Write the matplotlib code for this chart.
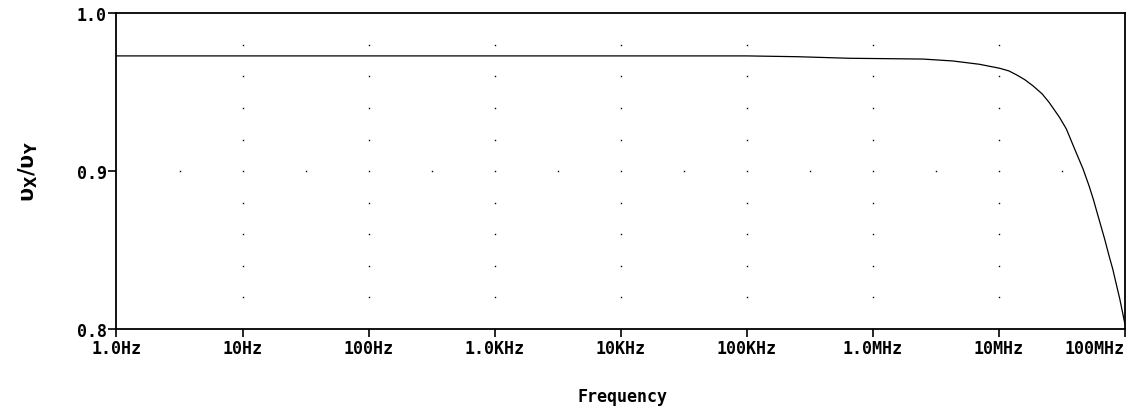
import numpy as np
import matplotlib
matplotlib.use("Agg")
import matplotlib.pyplot as plt

# frequency response (Hz, vx/vy)
freq = [1, 10, 100, 1e3, 1e4, 1e5, 2.5e5, 6.5e5, 1.5e6, 2.5e6, 4.3e6, 7.0e6, 1.01e7,
        1.2e7, 1.38e7, 1.6e7, 1.86e7, 2.2e7, 2.5e7, 3.03e7, 3.43e7, 3.99e7, 4.65e7,
        5.2e7, 5.6e7, 6.2e7, 6.9e7, 7.5e7, 8.0e7, 8.5e7, 9.1e7, 9.6e7, 1e8]
gain = [0.973, 0.973, 0.973, 0.973, 0.973, 0.973, 0.9725, 0.9715, 0.9712, 0.971, 0.9698, 0.9677, 0.9652,
        0.9635, 0.961, 0.958, 0.9541, 0.949, 0.9436, 0.934, 0.9267, 0.914, 0.9014,
        0.8905, 0.8824, 0.870, 0.857, 0.846, 0.838, 0.829, 0.819, 0.810, 0.803]

xticks = [1, 10, 100, 1e3, 1e4, 1e5, 1e6, 1e7, 1e8]
xlabels = ["1.0Hz", "10Hz", "100Hz", "1.0KHz", "10KHz", "100KHz", "1.0MHz", "10MHz", "100MHz"]
yticks = [0.8, 0.9, 1.0]
ylabels = ["0.8", "0.9", "1.0"]

font = {"family": "DejaVu Sans Mono", "weight": "bold", "size": 12}

fig = plt.figure(figsize=(11.33, 4.14), dpi=100)
ax = fig.add_axes([0.1028, 0.2029, 0.8901, 0.7626])

# dotted grid like pspice
gx = xticks[1:-1]
gy = np.arange(0.82, 0.99, 0.02)
for x in gx:
    ax.plot([x] * len(gy), gy, ls="none", marker="s", ms=1.0, color="k", mew=0)
half = [10 ** (k + 0.5) for k in range(8)]
ax.plot(half, [0.9] * len(half), ls="none", marker="s", ms=1.0, color="k", mew=0)

ax.plot(freq, gain, color="k", lw=0.9)

ax.set_xscale("log")
ax.set_xlim(1, 1e8)
ax.set_ylim(0.8, 1.0)
ax.set_xticks(xticks)
ax.set_xticklabels(xlabels, fontdict=font)
ax.minorticks_off()
ax.set_yticks(yticks)
ax.set_yticklabels(ylabels, fontdict=font)
ax.get_xticklabels()[-1].set_horizontalalignment("right")
ax.tick_params(length=6, width=1.2, pad=1, color="k")
for s in ax.spines.values():
    s.set_linewidth(1.3)

fig.text(0.549, 0.04, "Frequency", ha="center", va="center", **font)
fig.text(0.025, 0.585, r"$\mathbf{\upsilon_X/\upsilon_Y}$", rotation=90,
         ha="center", va="center", fontsize=15)

fig.savefig("out.png", dpi=100)
